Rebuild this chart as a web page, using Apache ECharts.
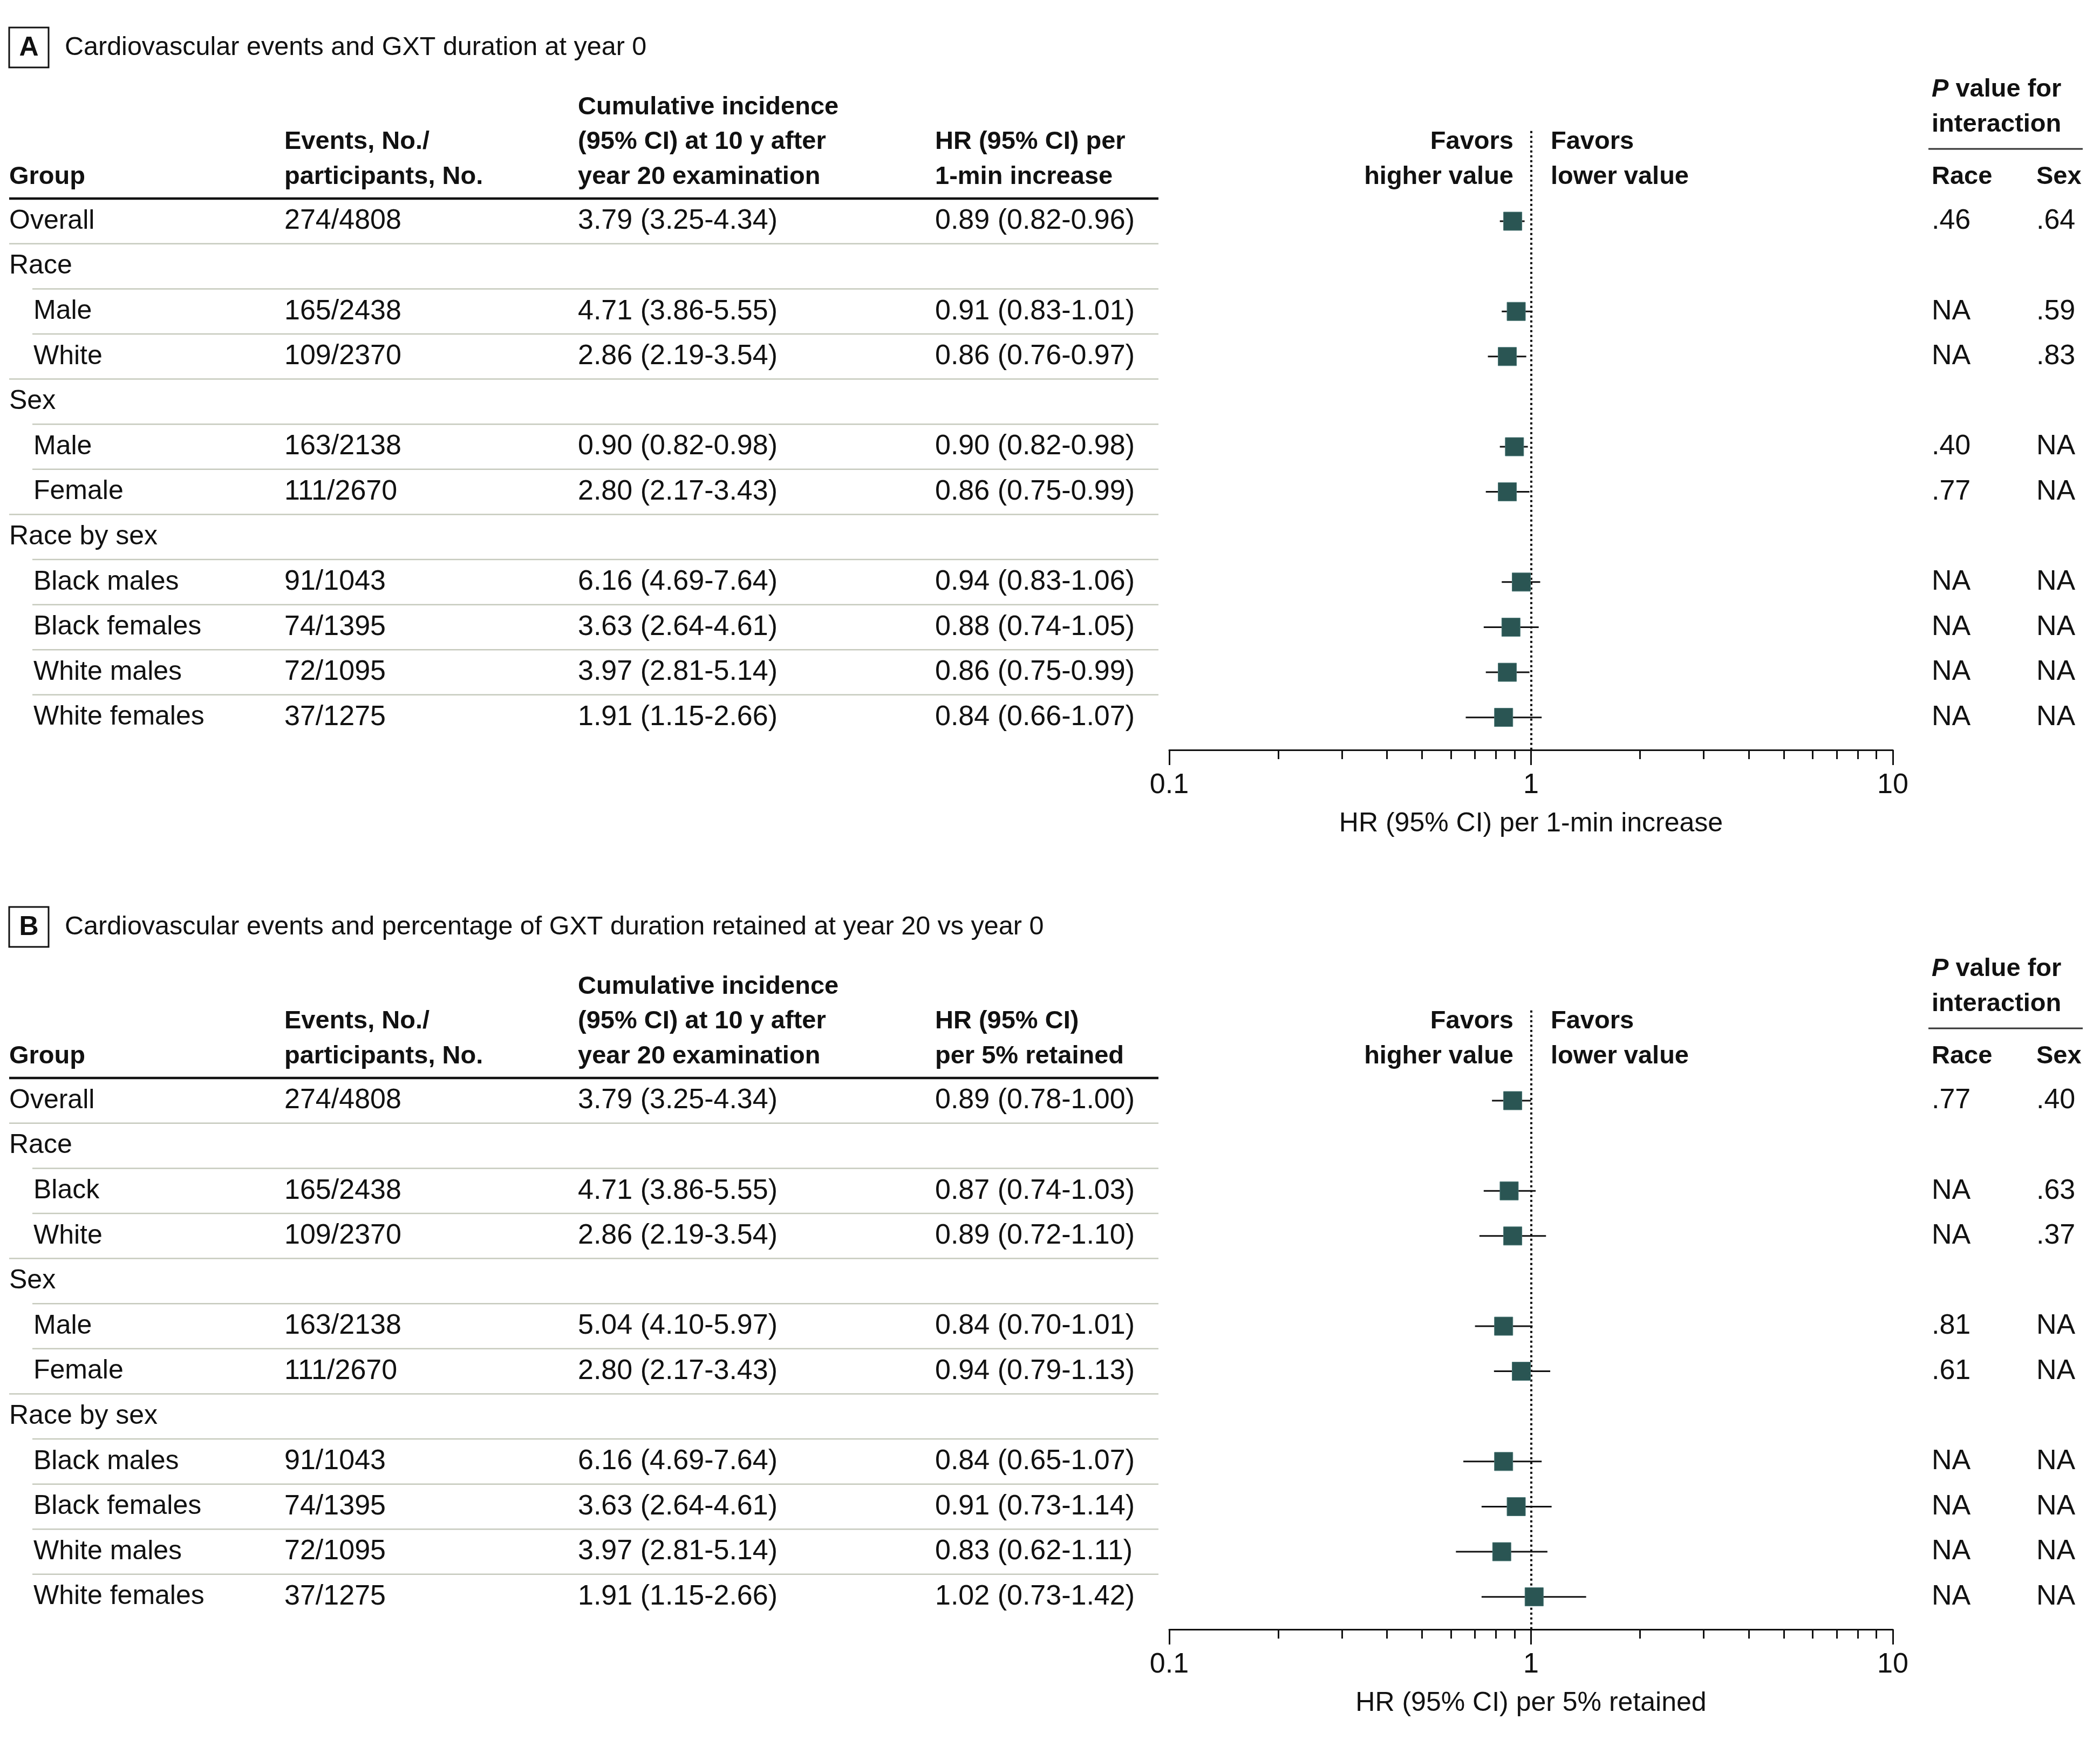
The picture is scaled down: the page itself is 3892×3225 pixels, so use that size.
<!DOCTYPE html>
<html><head><meta charset="utf-8">
<script src="https://cdn.jsdelivr.net/npm/echarts@6/dist/echarts.min.js"></script>
<style>html,body{margin:0;padding:0;background:#fff}#c{width:3892px;height:3225px}</style>
</head><body><div id="c"></div>
<script>
// ---------------- DATA ----------------
const panelTitleA = 'Cardiovascular events and GXT duration at year 0';
const panelTitleB = 'Cardiovascular events and percentage of GXT duration retained at year 20 vs year 0';
const hrHeaderA = ['HR (95% CI) per', '1-min increase'];
const hrHeaderB = ['HR (95% CI)', 'per 5% retained'];
const axisNameA = 'HR (95% CI) per 1-min increase';
const axisNameB = 'HR (95% CI) per 5% retained';

const groupsA = ['Overall','Race','Male','White','Sex','Male','Female','Race by sex','Black males','Black females','White males','White females'];
const eventsA = ['274/4808',null,'165/2438','109/2370',null,'163/2138','111/2670',null,'91/1043','74/1395','72/1095','37/1275'];
const cumIncA = ['3.79 (3.25-4.34)',null,'4.71 (3.86-5.55)','2.86 (2.19-3.54)',null,'0.90 (0.82-0.98)','2.80 (2.17-3.43)',null,'6.16 (4.69-7.64)','3.63 (2.64-4.61)','3.97 (2.81-5.14)','1.91 (1.15-2.66)'];
const hrA     = [0.89,null,0.91,0.86,null,0.90,0.86,null,0.94,0.88,0.86,0.84];
const hrLowA  = [0.82,null,0.83,0.76,null,0.82,0.75,null,0.83,0.74,0.75,0.66];
const hrHighA = [0.96,null,1.01,0.97,null,0.98,0.99,null,1.06,1.05,0.99,1.07];
const pRaceA  = ['.46',null,'NA','NA',null,'.40','.77',null,'NA','NA','NA','NA'];
const pSexA   = ['.64',null,'.59','.83',null,'NA','NA',null,'NA','NA','NA','NA'];

const groupsB = ['Overall','Race','Black','White','Sex','Male','Female','Race by sex','Black males','Black females','White males','White females'];
const eventsB = ['274/4808',null,'165/2438','109/2370',null,'163/2138','111/2670',null,'91/1043','74/1395','72/1095','37/1275'];
const cumIncB = ['3.79 (3.25-4.34)',null,'4.71 (3.86-5.55)','2.86 (2.19-3.54)',null,'5.04 (4.10-5.97)','2.80 (2.17-3.43)',null,'6.16 (4.69-7.64)','3.63 (2.64-4.61)','3.97 (2.81-5.14)','1.91 (1.15-2.66)'];
const hrB     = [0.89,null,0.87,0.89,null,0.84,0.94,null,0.84,0.91,0.83,1.02];
const hrLowB  = [0.78,null,0.74,0.72,null,0.70,0.79,null,0.65,0.73,0.62,0.73];
const hrHighB = [1.00,null,1.03,1.10,null,1.01,1.13,null,1.07,1.14,1.11,1.42];
const pRaceB  = ['.77',null,'NA','NA',null,'.81','.61',null,'NA','NA','NA','NA'];
const pSexB   = ['.40',null,'.63','.37',null,'NA','NA',null,'NA','NA','NA','NA'];

const majorTicks = [0.1, 1, 10];
const minorTicks = [0.2,0.3,0.4,0.5,0.6,0.7,0.8,0.9,2,3,4,5,6,7,8,9];

// ---------------- LAYOUT / STYLE ----------------
const FONT = '"Liberation Sans", Arial, sans-serif';
const INK = '#111111';
const MARK = '#2A5553';
const SEP = '#C6CABD';
const FS = 50, FSN = 52, FSB = 47, FST = 48.5;
const OFFSET = 1630;
const GRID_TOP = 242.8, GRID_H = 1147.2, GRID_L = 2167, GRID_W = 1341;
const Y_MIN = -2, Y_MAX = 11.722;
const COL = {group: 17, indent: 62, events: 527, cum: 1071, hr: 1733, race: 3580, sex: 3774, tableEnd: 2147};

const chart = echarts.init(document.getElementById('c'), null, {renderer: 'canvas'});

const fmt = v => v.toFixed(2);

function panel(i, d) {
  const o = i * OFFSET;
  const n = d.groups.length;
  const rows = d.groups.map((g, r) => [1, r]);
  const ci = [], pts = [];
  d.hr.forEach((h, r) => {
    if (h != null) { ci.push([d.lo[r], d.hi[r], r]); pts.push([h, r]); }
  });
  const txt = (text, x, y, opt) => Object.assign({
    type: 'text', x, y,
    style: Object.assign({text, fontFamily: FONT, fontSize: FS, fill: INK, align: 'left', verticalAlign: 'middle'}, opt || {})
  });
  const num = {fontSize: FSN};
  const tableSeries = {
    type: 'custom', xAxisIndex: i * 2, yAxisIndex: i, silent: true, z: 5,
    data: rows,
    renderItem: function (params, api) {
      const r = api.value(1);
      const y = api.coord([1, r])[1];
      const section = d.hr[r] == null;
      const indent = !section && r > 0;
      const ch = [txt(d.groups[r], indent ? COL.indent : COL.group, y)];
      if (!section) {
        ch.push(txt(d.events[r], COL.events, y, num));
        ch.push(txt(d.cum[r], COL.cum, y, num));
        ch.push(txt(fmt(d.hr[r]) + ' (' + fmt(d.lo[r]) + '-' + fmt(d.hi[r]) + ')', COL.hr, y, num));
        ch.push(txt(d.pRace[r], COL.race, y, num));
        ch.push(txt(d.pSex[r], COL.sex, y, num));
      }
      if (r < n - 1) {
        const ys = api.coord([1, r + 0.5])[1];
        const nextSection = d.hr[r + 1] == null;
        ch.push({type: 'line', shape: {x1: nextSection ? COL.group : COL.indent - 2, y1: ys, x2: COL.tableEnd, y2: ys},
                 style: {stroke: SEP, lineWidth: 2.5}});
      }
      return {type: 'group', children: ch};
    }
  };
  const ciSeries = {
    type: 'custom', xAxisIndex: i * 2, yAxisIndex: i, silent: true, z: 3,
    data: ci,
    encode: {x: [0, 1], y: 2},
    renderItem: function (params, api) {
      const r = api.value(2);
      const p1 = api.coord([api.value(0), r]);
      const p2 = api.coord([api.value(1), r]);
      return {type: 'line', shape: {x1: p1[0], y1: p1[1], x2: p2[0], y2: p2[1]}, style: {stroke: INK, lineWidth: 3}};
    },
    markLine: {
      silent: true, symbol: 'none', animation: false,
      label: {show: false},
      lineStyle: {color: INK, width: 4, type: [4, 5]},
      data: [{xAxis: 1}]
    }
  };
  const ptSeries = {
    type: 'scatter', xAxisIndex: i * 2, yAxisIndex: i, silent: true, z: 6,
    data: pts, symbol: 'rect', symbolSize: 34,
    itemStyle: {color: MARK, opacity: 1, borderColor: '#4A7775', borderWidth: 1}
  };
  const grid = {left: GRID_L, width: GRID_W, top: GRID_TOP + o, height: GRID_H};
  const baseX = {type: 'log', logBase: 10, min: 0.1, max: 10, gridIndex: i, position: 'bottom', splitLine: {show: false}};
  const xMajor = Object.assign({}, baseX, {
    axisLine: {show: true, onZero: false, lineStyle: {color: INK, width: 3}},
    axisTick: {show: true, customValues: majorTicks, length: 28, lineStyle: {color: INK, width: 3}},
    axisLabel: {show: true, customValues: majorTicks, margin: 40, color: INK, fontSize: FSN, fontFamily: FONT,
                formatter: v => String(Number(Number(v).toPrecision(3)))},
    name: d.axisName, nameLocation: 'middle', nameGap: 112,
    nameTextStyle: {color: INK, fontSize: FS, fontFamily: FONT}
  });
  const xMinor = Object.assign({}, baseX, {
    axisLine: {show: false, onZero: false},
    axisTick: {show: true, customValues: minorTicks, length: 17, lineStyle: {color: INK, width: 3}},
    axisLabel: {show: false}
  });
  const yAx = {type: 'value', gridIndex: i, min: Y_MIN, max: Y_MAX, inverse: true, show: false, splitLine: {show: false}};

  const bold = {fontSize: FSB, fontWeight: 'bold'};
  const g = [
    {type: 'rect', shape: {x: 17, y: 51 + o, width: 73, height: 74}, style: {fill: 'none', stroke: INK, lineWidth: 3}},
    txt(d.letter, 53.5, 89 + o, {fontSize: FS, fontWeight: 'bold', align: 'center'}),
    txt(d.title, 120, 89 + o, {fontSize: FST}),
    txt('Group', COL.group, 328 + o, bold),
    txt('Events, No./', COL.events, 263 + o, bold),
    txt('participants, No.', COL.events, 328 + o, bold),
    txt('Cumulative incidence', COL.cum, 199 + o, bold),
    txt('(95% CI) at 10 y after', COL.cum, 263 + o, bold),
    txt('year 20 examination', COL.cum, 328 + o, bold),
    txt(d.hrHeader[0], COL.hr, 263 + o, bold),
    txt(d.hrHeader[1], COL.hr, 328 + o, bold),
    txt('Favors', 2805, 263 + o, Object.assign({align: 'right'}, bold)),
    txt('higher value', 2805, 328 + o, Object.assign({align: 'right'}, bold)),
    txt('Favors', 2874, 263 + o, bold),
    txt('lower value', 2874, 328 + o, bold),
    {type: 'text', x: COL.race, y: 166 + o, style: {
      text: '{i|P} value for', fontFamily: FONT, fontSize: FSB, fontWeight: 'bold', fill: INK, align: 'left', verticalAlign: 'middle',
      rich: {i: {fontStyle: 'italic', fontWeight: 'bold', fontFamily: FONT, fontSize: FSB, fill: INK}}}},
    txt('interaction', COL.race, 231 + o, bold),
    txt('Race', COL.race, 328 + o, bold),
    txt('Sex', COL.sex, 328 + o, bold),
    {type: 'line', shape: {x1: 3574, y1: 276 + o, x2: 3860, y2: 276 + o}, style: {stroke: '#333', lineWidth: 3}},
    {type: 'line', shape: {x1: 17, y1: 368 + o, x2: COL.tableEnd, y2: 368 + o}, style: {stroke: INK, lineWidth: 4.5}}
  ];
  return {grid, xAxes: [xMajor, xMinor], yAxis: yAx, series: [tableSeries, ciSeries, ptSeries], graphics: g};
}

const A = panel(0, {letter: 'A', title: panelTitleA, hrHeader: hrHeaderA, axisName: axisNameA,
  groups: groupsA, events: eventsA, cum: cumIncA, hr: hrA, lo: hrLowA, hi: hrHighA, pRace: pRaceA, pSex: pSexA});
const B = panel(1, {letter: 'B', title: panelTitleB, hrHeader: hrHeaderB, axisName: axisNameB,
  groups: groupsB, events: eventsB, cum: cumIncB, hr: hrB, lo: hrLowB, hi: hrHighB, pRace: pRaceB, pSex: pSexB});

chart.setOption({
  animation: false,
  backgroundColor: '#fff',
  grid: [A.grid, B.grid],
  xAxis: A.xAxes.concat(B.xAxes),
  yAxis: [A.yAxis, B.yAxis],
  series: A.series.concat(B.series),
  graphic: {elements: A.graphics.concat(B.graphics).map(e => Object.assign({silent: true, z: 10}, e))}
});
</script>
</body></html>
